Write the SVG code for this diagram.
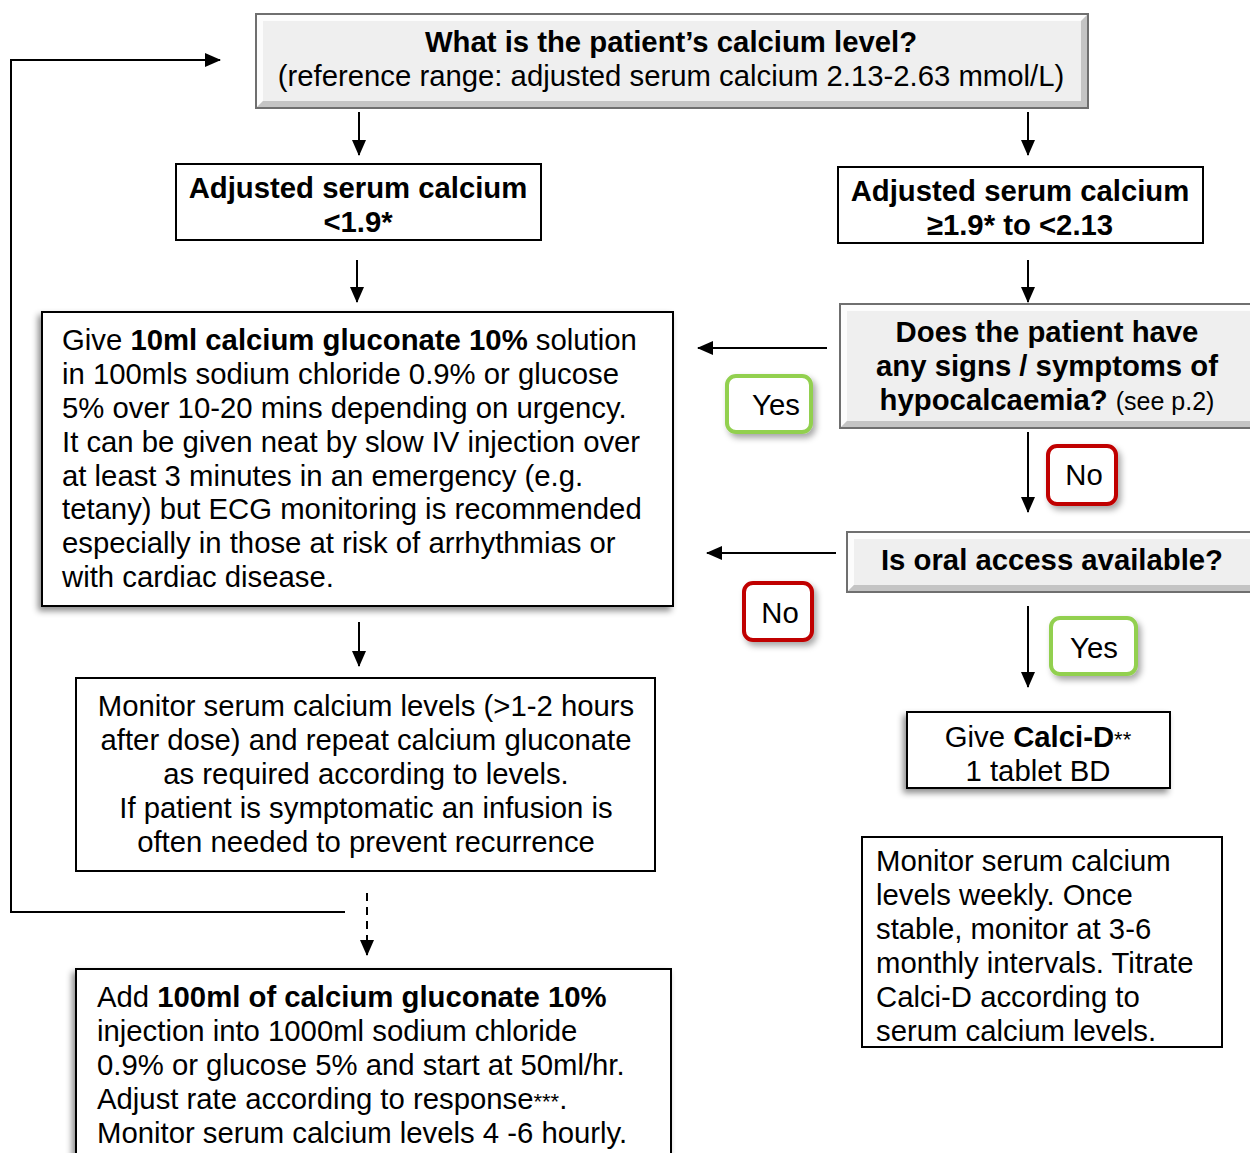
<svg xmlns="http://www.w3.org/2000/svg" width="1250" height="1153" viewBox="0 0 1250 1153">
<defs>
<style>
text{font-family:"Liberation Sans",Arial,sans-serif;font-size:29.3px;fill:#000}
.b{font-weight:bold}
.c{text-anchor:middle}
.box{fill:#fff;stroke:#000;stroke-width:2}
.ln{fill:none;stroke:#000;stroke-width:2}
.bev-out{fill:#e6e6e6;stroke:#6f6f6f;stroke-width:2}
.bev-in{fill:#efefef}
.hl{fill:#fcfcfc}
.dk{fill:#c4c4c4}
.yes{fill:#fff;stroke:#92d050;stroke-width:4}
.no{fill:#fff;stroke:#c00000;stroke-width:4}
</style>
<marker id="ah" markerWidth="16" markerHeight="14" refX="15" refY="7" orient="auto" markerUnits="userSpaceOnUse">
<path d="M0,0 L16,7 L0,14 z" fill="#000"/>
</marker>
<filter id="sh" x="-10%" y="-10%" width="120%" height="130%">
<feDropShadow dx="-3" dy="4" stdDeviation="3" flood-color="#000" flood-opacity="0.45"/>
</filter>
<filter id="sh2" x="-20%" y="-20%" width="150%" height="150%">
<feDropShadow dx="3" dy="4" stdDeviation="3" flood-color="#000" flood-opacity="0.35"/>
</filter>
</defs>

<g id="connectors">
<line class="ln" x1="359" y1="112" x2="359" y2="155" marker-end="url(#ah)"/>
<line class="ln" x1="1028" y1="112" x2="1028" y2="155" marker-end="url(#ah)"/>
<line class="ln" x1="357" y1="260" x2="357" y2="302" marker-end="url(#ah)"/>
<line class="ln" x1="1028" y1="260" x2="1028" y2="302" marker-end="url(#ah)"/>
<line class="ln" x1="827" y1="348" x2="698" y2="348" marker-end="url(#ah)"/>
<line class="ln" x1="1028" y1="432" x2="1028" y2="512" marker-end="url(#ah)"/>
<line class="ln" x1="836" y1="553" x2="707" y2="553" marker-end="url(#ah)"/>
<line class="ln" x1="1028" y1="606" x2="1028" y2="687" marker-end="url(#ah)"/>
<line class="ln" x1="359" y1="622" x2="359" y2="666" marker-end="url(#ah)"/>
<line class="ln" x1="367" y1="893" x2="367" y2="955" stroke-dasharray="8,6" marker-end="url(#ah)"/>
<polyline class="ln" points="345,912 11,912 11,60 220,60" marker-end="url(#ah)"/>
</g>

<g id="q-calcium">
<rect class="bev-out" x="256" y="14" width="832" height="94"/>
<path class="hl" d="M257,15 L1087,15 L1081,21 L263,21 L263,101 L257,107 z"/>
<path class="dk" d="M1087,15 L1087,107 L257,107 L263,101 L1081,101 L1081,21 z"/>
<rect class="bev-in" x="263" y="21" width="818" height="80"/>
<text class="c b" x="671" y="52">What is the patient’s calcium level?</text>
<text class="c" x="671" y="86">(reference range: adjusted serum calcium 2.13-2.63 mmol/L)</text>
</g>

<g id="low-ca">
<rect class="box" x="176" y="164" width="365" height="76"/>
<text class="c b" x="358" y="198">Adjusted serum calcium</text>
<text class="c b" x="358" y="232">&lt;1.9*</text>
</g>

<g id="mid-ca">
<rect class="box" x="838" y="167" width="365" height="76"/>
<text class="c b" x="1020" y="201">Adjusted serum calcium</text>
<text class="c b" x="1020" y="235">≥1.9* to &lt;2.13</text>
</g>

<g id="give-gluconate">
<rect class="box" x="42" y="312" width="631" height="294" filter="url(#sh)"/>
<text x="62" y="350">Give <tspan class="b">10ml calcium gluconate 10%</tspan> solution</text>
<text x="62" y="384">in 100mls sodium chloride 0.9% or glucose</text>
<text x="62" y="418">5% over 10-20 mins depending on urgency.</text>
<text x="62" y="452">It can be given neat by slow IV injection over</text>
<text x="62" y="486">at least 3 minutes in an emergency (e.g.</text>
<text x="62" y="519">tetany) but ECG monitoring is recommended</text>
<text x="62" y="553">especially in those at risk of arrhythmias or</text>
<text x="62" y="587">with cardiac disease.</text>
</g>

<g id="q-symptoms">
<rect class="bev-out" x="840" y="304" width="420" height="124"/>
<path class="hl" d="M841,305 L1259,305 L1253,311 L847,311 L847,421 L841,427 z"/>
<path class="dk" d="M841,427 L847,421 L1253,421 L1259,427 z"/>
<rect class="bev-in" x="847" y="311" width="406" height="110"/>
<text class="c b" x="1047" y="342">Does the patient have</text>
<text class="c b" x="1047" y="376">any signs / symptoms of</text>
<text class="c" x="1047" y="410"><tspan class="b">hypocalcaemia?</tspan> <tspan font-size="25">(see p.2)</tspan></text>
</g>

<g id="yes1">
<rect class="yes" x="727" y="376" width="84" height="56" rx="9" filter="url(#sh2)"/>
<text class="c" x="776" y="415">Yes</text>
</g>

<g id="no1">
<rect class="no" x="1048" y="446" width="68" height="58" rx="9" filter="url(#sh2)"/>
<text class="c" x="1084" y="485">No</text>
</g>

<g id="q-oral">
<rect class="bev-out" x="847" y="532" width="413" height="60"/>
<path class="hl" d="M848,533 L1259,533 L1253,539 L854,539 L854,585 L848,591 z"/>
<path class="dk" d="M848,591 L854,585 L1253,585 L1259,591 z"/>
<rect class="bev-in" x="854" y="539" width="399" height="46"/>
<text class="c b" x="1052" y="570">Is oral access available?</text>
</g>

<g id="no2">
<rect class="no" x="744" y="583" width="68" height="57" rx="9" filter="url(#sh2)"/>
<text class="c" x="780" y="623">No</text>
</g>

<g id="yes2">
<rect class="yes" x="1051" y="618" width="85" height="56" rx="9" filter="url(#sh2)"/>
<text class="c" x="1094" y="658">Yes</text>
</g>

<g id="calci-d">
<rect class="box" x="907" y="712" width="263" height="76" filter="url(#sh)"/>
<text class="c" x="1038" y="747">Give <tspan class="b">Calci-D</tspan><tspan font-size="22">**</tspan></text>
<text class="c" x="1038" y="781">1 tablet BD</text>
</g>

<g id="monitor-right">
<rect class="box" x="862" y="837" width="360" height="210"/>
<text x="876" y="871">Monitor serum calcium</text>
<text x="876" y="905">levels weekly. Once</text>
<text x="876" y="939">stable, monitor at 3-6</text>
<text x="876" y="973">monthly intervals. Titrate</text>
<text x="876" y="1007">Calci-D according to</text>
<text x="876" y="1041">serum calcium levels.</text>
</g>

<g id="monitor-left">
<rect class="box" x="76" y="678" width="579" height="193"/>
<text class="c" x="366" y="716">Monitor serum calcium levels (&gt;1-2 hours</text>
<text class="c" x="366" y="750">after dose) and repeat calcium gluconate</text>
<text class="c" x="366" y="784">as required according to levels.</text>
<text class="c" x="366" y="818">If patient is symptomatic an infusion is</text>
<text class="c" x="366" y="852">often needed to prevent recurrence</text>
</g>

<g id="infusion">
<rect class="box" x="76" y="969" width="595" height="200" filter="url(#sh)"/>
<text x="97" y="1007">Add <tspan class="b">100ml of calcium gluconate 10%</tspan></text>
<text x="97" y="1041">injection into 1000ml sodium chloride</text>
<text x="97" y="1075">0.9% or glucose 5% and start at 50ml/hr.</text>
<text x="97" y="1109">Adjust rate according to response<tspan font-size="22">***</tspan>.</text>
<text x="97" y="1143">Monitor serum calcium levels 4 -6 hourly.</text>
</g>
</svg>
